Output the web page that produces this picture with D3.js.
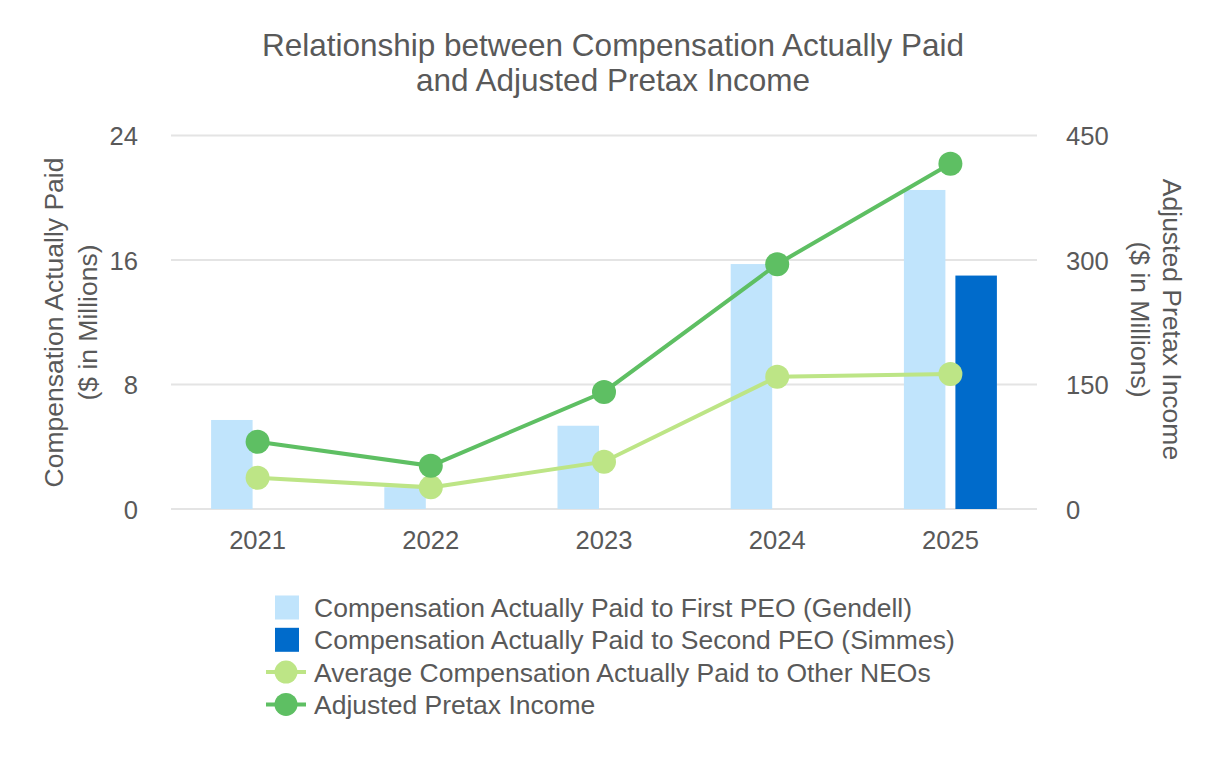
<!DOCTYPE html>
<html>
<head>
<meta charset="utf-8">
<script src="https://cdn.jsdelivr.net/npm/d3@7"></script>
<style>
  body { margin: 0; background: #fff; }
  text { font-family: "Liberation Sans", Arial, sans-serif; fill: #595959; }
</style>
</head>
<body>
<svg id="chart"></svg>
<script>
var years = ["2021", "2022", "2023", "2024", "2025"];
var firstPeo = [5.72, 1.4, 5.35, 15.74, 20.5];
var secondPeo = [null, null, null, null, 15.0];
var otherNeos = [2.01, 1.39, 3.04, 8.5, 8.67];
var pretaxIncome = [81, 52, 141, 295, 416];
var leftTicks = [0, 8, 16, 24];
var rightTicks = [0, 150, 300, 450];

var width = 1226, height = 760;
var plot = { left: 171, right: 1037, top: 135.5, bottom: 509 };

var colLight = "#c0e4fc", colDark = "#006bcb";
var colNeo = "#bde586", colIncome = "#5ebf63";

var svg = d3.select("#chart").attr("width", width).attr("height", height);

var x = d3.scaleBand().domain(years).range([plot.left, plot.right]);
var yL = d3.scaleLinear().domain([0, 24]).range([plot.bottom, plot.top]);
var yR = d3.scaleLinear().domain([0, 450]).range([plot.bottom, plot.top]);
var barW = 41.5, gap = 10;
var cx = function(i) { return x(years[i]) + x.bandwidth() / 2; };

// title
svg.append("text").attr("x", 613).attr("y", 56).attr("text-anchor", "middle")
	.style("font-size", "31.5px").text("Relationship between Compensation Actually Paid");
svg.append("text").attr("x", 613).attr("y", 91).attr("text-anchor", "middle")
	.style("font-size", "31.5px").text("and Adjusted Pretax Income");

// gridlines
svg.append("g").selectAll("line")
	.data(leftTicks)
	.enter().append("line")
	.attr("x1", plot.left).attr("x2", plot.right)
	.attr("y1", function(d) { return yL(d); })
	.attr("y2", function(d) { return yL(d); })
	.attr("stroke", "#e4e4e4").attr("stroke-width", 2);

// axes
var leftAxis = svg.append("g").attr("transform", "translate(" + (plot.left - 30) + ",0)")
	.call(d3.axisLeft(yL).tickValues(leftTicks).tickSize(0));
var rightAxis = svg.append("g").attr("transform", "translate(" + (plot.right + 26) + ",0)")
	.call(d3.axisRight(yR).tickValues(rightTicks).tickSize(0));
var bottomAxis = svg.append("g").attr("transform", "translate(0," + plot.bottom + ")")
	.call(d3.axisBottom(x).tickSize(0));
[leftAxis, rightAxis, bottomAxis].forEach(function(a) {
	a.select(".domain").remove();
	a.selectAll("text").style("font-size", "25.6px").attr("fill", "#595959");
});
leftAxis.selectAll("text").attr("dy", "0.36em");
rightAxis.selectAll("text").attr("dy", "0.36em");
bottomAxis.selectAll("text").attr("y", 40.3).attr("dy", 0);

// axis titles
var lt = svg.append("text").attr("transform", "translate(62.5,322.5) rotate(-90)")
	.attr("text-anchor", "middle").style("font-size", "26.5px");
lt.append("tspan").attr("x", 0).attr("y", 0).text("Compensation Actually Paid");
lt.append("tspan").attr("x", 0).attr("y", 34).text("($ in Millions)");
var rt = svg.append("text").attr("transform", "translate(1163,319.5) rotate(90)")
	.attr("text-anchor", "middle").style("font-size", "26.5px");
rt.append("tspan").attr("x", 0).attr("y", 0).text("Adjusted Pretax Income");
rt.append("tspan").attr("x", 0).attr("y", 32.5).text("($ in Millions)");

// bars
svg.append("g").selectAll("rect")
	.data(firstPeo)
	.enter().append("rect")
	.attr("x", function(d, i) { return cx(i) - barW - gap / 2; })
	.attr("width", barW)
	.attr("y", function(d) { return yL(d); })
	.attr("height", function(d) { return yL(0) - yL(d); })
	.attr("fill", colLight);
svg.append("g").selectAll("rect")
	.data(secondPeo.map(function(d, i) { return { v: d, i: i }; }).filter(function(d) { return d.v != null; }))
	.enter().append("rect")
	.attr("x", function(d) { return cx(d.i) + gap / 2; })
	.attr("width", barW)
	.attr("y", function(d) { return yL(d.v); })
	.attr("height", function(d) { return yL(0) - yL(d.v); })
	.attr("fill", colDark);

// lines
function drawLine(values, scale, color) {
	var line = d3.line()
		.x(function(d, i) { return cx(i); })
		.y(function(d) { return scale(d); });
	svg.append("path").datum(values)
		.attr("d", line).attr("fill", "none")
		.attr("stroke", color).attr("stroke-width", 4);
	svg.append("g").selectAll("circle")
		.data(values)
		.enter().append("circle")
		.attr("cx", function(d, i) { return cx(i); })
		.attr("cy", function(d) { return scale(d); })
		.attr("r", 12)
		.attr("fill", color);
}
drawLine(otherNeos, yL, colNeo);
drawLine(pretaxIncome, yR, colIncome);

// legend
var legendItems = [
	{ label: "Compensation Actually Paid to First PEO (Gendell)", color: colLight, type: "bar" },
	{ label: "Compensation Actually Paid to Second PEO (Simmes)", color: colDark, type: "bar" },
	{ label: "Average Compensation Actually Paid to Other NEOs", color: colNeo, type: "line" },
	{ label: "Adjusted Pretax Income", color: colIncome, type: "line" }
];
var legend = svg.selectAll(".legend")
	.data(legendItems)
	.enter().append("g")
	.attr("class", "legend")
	.attr("transform", function(d, i) { return "translate(0," + (607.5 + i * 32.3) + ")"; });

legend.filter(function(d) { return d.type == "bar"; }).append("rect")
	.attr("x", 275).attr("y", -12).attr("width", 24).attr("height", 24)
	.attr("fill", function(d) { return d.color; });
legend.filter(function(d) { return d.type == "line"; }).append("line")
	.attr("x1", 266).attr("x2", 306).attr("y1", 0).attr("y2", 0)
	.attr("stroke", function(d) { return d.color; }).attr("stroke-width", 4);
legend.filter(function(d) { return d.type == "line"; }).append("circle")
	.attr("cx", 286).attr("cy", 0).attr("r", 11.5)
	.attr("fill", function(d) { return d.color; });
legend.append("text")
	.attr("x", 314).attr("dy", "0.36em")
	.style("font-size", "26.5px")
	.text(function(d) { return d.label; });
</script>
</body>
</html>
